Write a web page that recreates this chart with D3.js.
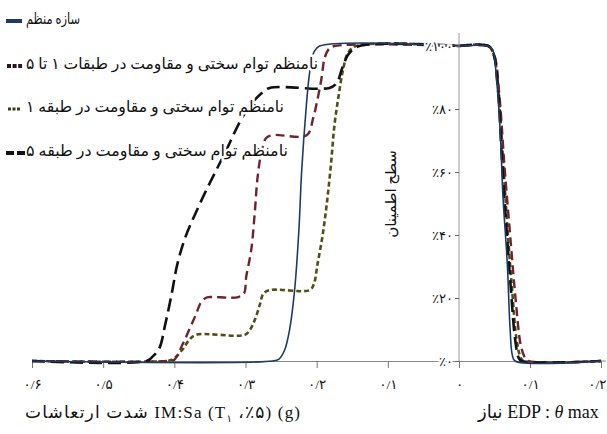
<!DOCTYPE html>
<html>
<head>
<meta charset="utf-8">
<title>Fragility curves</title>
<script src="https://cdn.jsdelivr.net/npm/d3@7"></script>
<style>
  body { margin: 0; background: #fff; }
  svg { display: block; }
  text { font-family: "Liberation Serif", "DejaVu Sans", serif; fill: #111; }
</style>
</head>
<body>
<svg id="chart" width="607" height="434"></svg>
<script>
// --- data ---
// left panel: IM = Sa(T1, 5%) in g, value = confidence level (0..1)
const regularIM   = [[0.6,0],[0.262,0],[0.253,0.006],[0.245,0.035],[0.238,0.10],[0.231,0.225],[0.225,0.415],[0.221,0.606],[0.215,0.797],[0.210,0.914],[0.204,0.98],[0.196,1],[0,1]];
const allStoriesIM = [[0.6,0],[0.41,0],[0.400,0.004],[0.389,0.05],[0.379,0.10],[0.370,0.146],[0.363,0.184],[0.356,0.2],[0.350,0.203],[0.310,0.203],[0.302,0.215],[0.299,0.267],[0.292,0.352],[0.287,0.47],[0.283,0.584],[0.277,0.67],[0.271,0.708],[0.262,0.717],[0.214,0.717],[0.205,0.77],[0.198,0.84],[0.193,0.9],[0.189,0.96],[0.183,0.99],[0.175,1],[0,1]];
const story1IM    = [[0.6,0],[0.41,0],[0.403,0.004],[0.389,0.035],[0.379,0.067],[0.370,0.083],[0.301,0.083],[0.294,0.098],[0.287,0.13],[0.280,0.178],[0.275,0.213],[0.266,0.225],[0.210,0.225],[0.204,0.244],[0.199,0.305],[0.192,0.394],[0.186,0.495],[0.180,0.622],[0.175,0.749],[0.169,0.844],[0.163,0.924],[0.156,0.978],[0.145,1],[0,1]];
const story5IM    = [[0.6,0],[0.439,0],[0.431,0.013],[0.421,0.041],[0.413,0.114],[0.404,0.21],[0.396,0.305],[0.385,0.39],[0.370,0.47],[0.355,0.543],[0.341,0.606],[0.325,0.679],[0.308,0.759],[0.292,0.816],[0.277,0.851],[0.266,0.867],[0.182,0.867],[0.172,0.882],[0.164,0.93],[0.155,0.975],[0.14,1],[0,1]];

// right panel: EDP = theta max, value = confidence level
const regularEDP   = [[0,1],[0.040,1],[0.047,0.99],[0.053,0.89],[0.058,0.73],[0.062,0.52],[0.068,0.31],[0.072,0.10],[0.075,0.02],[0.079,0],[0.2,0]];
const allStoriesEDP = [[0,1],[0.042,1],[0.050,0.97],[0.057,0.84],[0.064,0.62],[0.072,0.40],[0.080,0.19],[0.087,0.05],[0.093,0.01],[0.098,0],[0.2,0]];
const story1EDP    = [[0,1],[0.041,1],[0.049,0.97],[0.056,0.85],[0.062,0.64],[0.068,0.43],[0.075,0.22],[0.081,0.07],[0.087,0.01],[0.091,0],[0.2,0]];
const story5EDP    = [[0,1],[0.041,1],[0.048,0.98],[0.055,0.86],[0.060,0.66],[0.066,0.45],[0.073,0.23],[0.079,0.07],[0.084,0.01],[0.088,0],[0.2,0]];

const legendLabels = ["سازه منظم", "نامنظم توام سختی و مقاومت در طبقات ۱ تا ۵", "نامنظم توام سختی و مقاومت در طبقه ۱", "نامنظم توام سختی و مقاومت در طبقه ۵"];
const leftTicks  = [0.6, 0.5, 0.4, 0.3, 0.2, 0.1];
const rightTicks = [0, 0.1, 0.2];
const yTicks     = [0, 0.2, 0.4, 0.6, 0.8, 1];
const yTitle = "سطح اطمینان";
const xTitleLeft = "شدت ارتعاشات IM:Sa (T";
const xTitleRight = "نیاز EDP : ";

// --- drawing ---
const svg = d3.select("#chart");
const fa = s => String(s).replace(/[0-9]/g, d => "۰۱۲۳۴۵۶۷۸۹"[d]).replace(".", "/");

const xL = d3.scaleLinear().domain([0, 0.6]).range([459, 32]);
const xR = d3.scaleLinear().domain([0, 0.2]).range([459, 601]);
const y  = d3.scaleLinear().domain([0, 1]).range([361, 46]);

// series styles
const styles = [
  { left: story1IM,     right: story1EDP,     color: "#4f5016", width: 2.6, dash: "5,3" },
  { left: allStoriesIM, right: allStoriesEDP, color: "#6e2330", width: 2.4, dash: "9,5" },
  { left: story5IM,     right: story5EDP,     color: "#111",    width: 2.6, dash: "13,6" },
  { left: regularIM,    right: regularEDP,    color: "#1e3c62", width: 1.6, dash: null }
];

// axes
const gx = svg.append("g").attr("transform", "translate(0,361)");
gx.append("g").call(d3.axisBottom(xL).tickValues(leftTicks).tickSize(7).tickSizeOuter(0).tickFormat(fa));
gx.append("g").call(d3.axisBottom(xR).tickValues(rightTicks).tickSize(7).tickSizeOuter(0).tickFormat(fa));
gx.selectAll(".domain").attr("stroke", "#888");
gx.selectAll(".tick line").attr("stroke", "#777");
gx.selectAll(".tick text").attr("font-size", 13.5).attr("dy", "1.35em").attr("fill", "#111")
  .style("font-family", "'Liberation Serif', 'DejaVu Sans', serif");
gx.selectAll(".tick text").filter(d => d === 0.2 && false).remove();
gx.selectAll("g").filter(function() { return this.classList.contains("tick"); })
  .filter(d => d === 0.2).each(function() {
    const t = d3.select(this);
    if (t.attr("transform").startsWith("translate(601")) t.select("text").attr("text-anchor", "end").attr("dx", 5);
  });
gx.append("line").attr("x1", 601).attr("x2", 606).attr("stroke", "#888");

const gy = svg.append("g").attr("transform", "translate(459,0)");
gy.call(d3.axisLeft(y).tickValues(yTicks).tickSize(4).tickSizeOuter(0).tickFormat(d => "٪" + fa(Math.round(d * 100))));
gy.select(".domain").attr("stroke", "#999").attr("d", "M0,33V361");
gy.selectAll(".tick line").attr("stroke", "#666");

// curves
const lineL = d3.line().x(d => xL(d[0])).y(d => y(d[1])).curve(d3.curveCatmullRom.alpha(0.5));
const lineR = d3.line().x(d => xR(d[0])).y(d => y(d[1])).curve(d3.curveCatmullRom.alpha(0.5));
const curves = svg.append("g").attr("fill", "none");
styles.forEach(s => {
  [[lineL, s.left], [lineR, s.right]].forEach(([gen, data]) => {
    curves.append("path")
      .attr("d", gen(data))
      .attr("stroke", s.color)
      .attr("stroke-width", s.width)
      .attr("stroke-dasharray", s.dash)
      .attr("stroke-linejoin", "round");
  });
});

// y tick labels on top with white halo
gy.raise();
gy.selectAll(".tick text")
  .attr("font-size", 13).attr("fill", "#222").attr("x", -6)
  .attr("stroke", "#fff").attr("stroke-width", 4).attr("paint-order", "stroke")
  .style("font-family", "'Liberation Serif', 'DejaVu Sans', serif");

// legend
const legendY = [24, 69, 112, 156];
const legendLen = [54, 292, 258, 262];
const lg = svg.append("g");
legendLabels.forEach((t, i) => {
  lg.append("text")
    .attr("x", 26).attr("y", legendY[i])
    .attr("font-size", 15.5)
    .attr("textLength", legendLen[i]).attr("lengthAdjust", "spacingAndGlyphs")
    .attr("stroke", "#fff").attr("stroke-width", 5).attr("paint-order", "stroke")
    .text(t);
});
const markers = [
  { color: "#1e3c62", width: 4, dash: null, x1: 6, x2: 22 },
  { color: "#2a1420", width: 4, dash: "4,1.6", x1: 7, x2: 22 },
  { color: "#3c3c14", width: 3, dash: "3,1.5", x1: 8, x2: 20 },
  { color: "#111", width: 4, dash: "8,3", x1: 6, x2: 25 }
];
markers.forEach((m, i) => {
  lg.append("line")
    .attr("x1", m.x1).attr("x2", m.x2)
    .attr("y1", legendY[i] - 3).attr("y2", legendY[i] - 3)
    .attr("stroke", m.color).attr("stroke-width", m.width)
    .attr("stroke-dasharray", m.dash);
});

// axis titles
svg.append("text")
  .attr("transform", "translate(396,194) rotate(-90)")
  .attr("text-anchor", "middle").attr("font-size", 15)
  .text(yTitle);

const tl = svg.append("text").attr("x", 25).attr("y", 418).attr("font-size", 17)
  .attr("textLength", 275).attr("lengthAdjust", "spacing");
tl.append("tspan").text(xTitleLeft);
tl.append("tspan").attr("font-size", 10).attr("dy", 4).text("۱");
tl.append("tspan").attr("dy", -4).text(" ،٪۵) (g)");

const tr = svg.append("text").attr("x", 478).attr("y", 418).attr("font-size", 18);
tr.append("tspan").text(xTitleRight);
tr.append("tspan").attr("font-style", "italic").text("θ");
tr.append("tspan").text(" max");
</script>
</body>
</html>
